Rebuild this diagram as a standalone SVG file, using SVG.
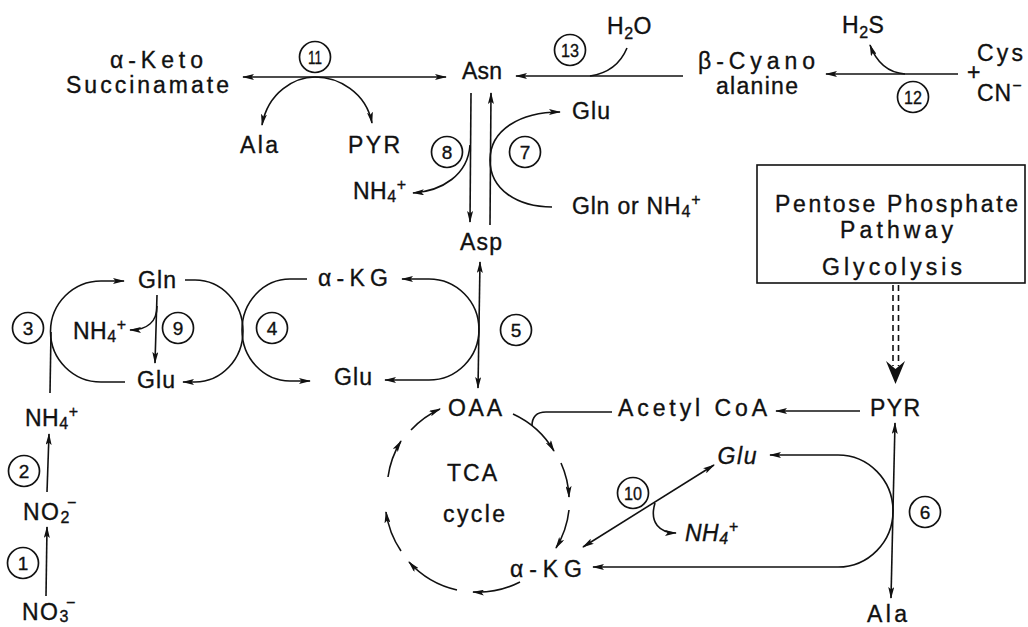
<svg xmlns="http://www.w3.org/2000/svg" width="1028" height="627" viewBox="0 0 1028 627">
<defs>
<style>
text{font-family:"Liberation Sans",Arial,sans-serif;font-size:23px;fill:#111;stroke:#111;stroke-width:0.35}
.c{text-anchor:middle}
.n{font-size:19px;text-anchor:middle}
.s{font-size:16px}
.it{font-style:italic}
.ln{fill:none;stroke:#111;stroke-width:1.6}
.ar{marker-end:url(#ah)}
.ab{marker-start:url(#ah);marker-end:url(#ah)}
circle{fill:none;stroke:#111;stroke-width:1.7}
</style>
<marker id="ah" viewBox="0 0 12 6" refX="11" refY="3" markerWidth="12" markerHeight="6" orient="auto-start-reverse" markerUnits="userSpaceOnUse">
<path d="M0,0 L12,3 L0,6 L2.5,3 z" fill="#111"/>
</marker>
</defs>
<rect width="1028" height="627" fill="#fff"/>

<g id="connectors">
<path class="ln ab" d="M243,77 H446"/>
<path class="ln ab" d="M262,125 C268,92 295,77 315,77 C338,77 366,92 372,123"/>
<path class="ln ar" d="M683,76 H516"/>
<path class="ln" d="M590,76 Q617,72 627,48"/>
<path class="ln ar" d="M958,74 H826"/>
<path class="ln ar" d="M905,74 Q880,72 870,45"/>
<path class="ln ar" d="M471,93 L470,222"/>
<path class="ln ar" d="M470,145 C468,175 442,191 413,193"/>
<path class="ln ar" d="M490,225 L491,93"/>
<path class="ln ar" d="M552,207 C518,207 490,190 490,160 C490,130 520,112 560,112"/>
<path class="ln ab" d="M478,388 L480,262"/>
<path class="ln ab" d="M402,279 H429 A50,50.5 0 0 1 429,380 H385"/>
<path class="ln" d="M50,393 L51,332"/>
<path class="ln ar" d="M125,382 H101 A50,50 0 0 1 101,281 H124"/>
<path class="ln ar" d="M157,295 L155,363"/>
<path class="ln ar" d="M157,306 C157,322 147,330 130,330"/>
<path class="ln ar" d="M185,280 H195 A48,51 0 0 1 195,382 H183"/>
<path class="ln ar" d="M307,279 H290 A48,51 0 0 0 290,381 H310"/>
<path class="ln ar" d="M47,492 L49,434"/>
<path class="ln ar" d="M46,596 L47,527"/>
<path class="ln" d="M893,285 V366 M898.5,285 V366" stroke-dasharray="6,4" stroke-width="1.4"/>
<path d="M886,361 L895.5,369 L905,361 L895.5,384 z" fill="#111"/>
<path class="ln ar" d="M860,411 H776"/>
<path class="ln" d="M612,412 H546 Q532,412 532,426"/>
<path class="ln ar" d="M513,414 A92,92 0 0 1 554,451"/>
<path class="ln ar" d="M561,463 A92,92 0 0 1 569,497"/>
<path class="ln ar" d="M569,510 A92,92 0 0 1 556,548"/>
<path class="ln ar" d="M520,582 A92,92 0 0 1 473,592"/>
<path class="ln ar" d="M457,590 A92,92 0 0 1 409,562"/>
<path class="ln ar" d="M401,551 A92,92 0 0 1 386,512"/>
<path class="ln ar" d="M388,477 A92,92 0 0 1 401,441"/>
<path class="ln ar" d="M411,430 A92,92 0 0 1 440,409"/>
<path class="ln ab" d="M583,547 L714,465"/>
<path class="ln ar" d="M655,503 C649,523 660,533 676,533"/>
<path class="ln ab" d="M770,455 H838 A55,56 0 0 1 838,567 H593"/>
<path class="ln ab" d="M891,598 L895,423"/>
</g>

<g id="n11"><circle cx="315" cy="57" r="15.5"/><text class="n" x="315" y="64" textLength="14" lengthAdjust="spacingAndGlyphs">11</text></g>
<g id="n13"><circle cx="570" cy="50" r="15.5"/><text class="n" x="570" y="57" textLength="18" lengthAdjust="spacingAndGlyphs">13</text></g>
<g id="n12"><circle cx="913" cy="97" r="15.5"/><text class="n" x="913" y="104" textLength="18" lengthAdjust="spacingAndGlyphs">12</text></g>
<g id="n8"><circle cx="447" cy="152" r="15.5"/><text class="n" x="447" y="159">8</text></g>
<g id="n7"><circle cx="525" cy="152" r="15.5"/><text class="n" x="525" y="159">7</text></g>
<g id="n3"><circle cx="28" cy="328" r="15.5"/><text class="n" x="28" y="335">3</text></g>
<g id="n9"><circle cx="178" cy="328" r="15.5"/><text class="n" x="178" y="335">9</text></g>
<g id="n4"><circle cx="272" cy="328" r="15.5"/><text class="n" x="272" y="335">4</text></g>
<g id="n5"><circle cx="516" cy="330" r="15.5"/><text class="n" x="516" y="337">5</text></g>
<g id="n2"><circle cx="24" cy="471" r="15.5"/><text class="n" x="24" y="478">2</text></g>
<g id="n1"><circle cx="23" cy="563" r="15.5"/><text class="n" x="23" y="570">1</text></g>
<g id="n10"><circle cx="633" cy="493" r="15.5"/><text class="n" x="633" y="500" textLength="18" lengthAdjust="spacingAndGlyphs">10</text></g>
<g id="n6"><circle cx="925" cy="512" r="15.5"/><text class="n" x="925" y="519">6</text></g>

<g id="aks"><text class="c" x="156.5" y="68" textLength="93">α-Keto</text><text class="c" x="147.5" y="93" textLength="163">Succinamate</text></g>
<g id="asn"><text class="c" x="482" y="79" textLength="40">Asn</text></g>
<g id="h2o"><text x="607" y="34" letter-spacing="0.5">H<tspan class="s" dy="5">2</tspan><tspan dy="-5">O</tspan></text></g>
<g id="bcyano"><text class="c" x="756.5" y="69" textLength="117">β-Cyano</text><text class="c" x="757" y="94" textLength="82">alanine</text></g>
<g id="h2s"><text x="842" y="33" letter-spacing="0.5">H<tspan class="s" dy="5">2</tspan><tspan dy="-5">S</tspan></text></g>
<g id="cyscn"><text class="c" x="1000" y="61" textLength="46">Cys</text><text x="967" y="80" font-size="16px">+</text><text x="977" y="101" letter-spacing="1">CN<tspan class="s" dy="-10">−</tspan></text></g>
<g id="ala1"><text class="c" x="259" y="153" textLength="38">Ala</text></g>
<g id="pyr1"><text class="c" x="374" y="153" textLength="52">PYR</text></g>
<g id="glu1"><text class="c" x="591" y="119" textLength="38">Glu</text></g>
<g id="nh4a"><text x="353" y="199" letter-spacing="0.5">NH<tspan class="s" dy="3">4</tspan><tspan class="s" dy="-12">+</tspan></text></g>
<g id="glnor"><text x="572" y="214" letter-spacing="0.8">Gln or NH<tspan class="s" dy="3">4</tspan><tspan class="s" dy="-12">+</tspan></text></g>
<g id="asp"><text class="c" x="481" y="250" textLength="42">Asp</text></g>
<g id="akg1"><text class="c" x="353" y="286" textLength="70">α-KG</text></g>
<g id="glu2"><text class="c" x="353" y="385" textLength="38">Glu</text></g>
<g id="gln"><text class="c" x="157" y="288" textLength="38">Gln</text></g>
<g id="glu3"><text class="c" x="156" y="388" textLength="38">Glu</text></g>
<g id="nh4b"><text x="73" y="339" letter-spacing="0.5">NH<tspan class="s" dy="3">4</tspan><tspan class="s" dy="-12">+</tspan></text></g>
<g id="nh4c"><text x="25" y="426" letter-spacing="0.5">NH<tspan class="s" dy="3">4</tspan><tspan class="s" dy="-12">+</tspan></text></g>
<g id="no2"><text x="23" y="520" letter-spacing="1.5">NO<tspan class="s" dy="3">2</tspan><tspan class="s" dx="-4" dy="-15">−</tspan></text></g>
<g id="no3"><text x="22" y="620" letter-spacing="1.5">NO<tspan class="s" dy="2">3</tspan><tspan class="s" dx="-4" dy="-14">−</tspan></text></g>
<g id="ppp"><rect x="757" y="165" width="268" height="118" fill="none" stroke="#111" stroke-width="1.6"/><text class="c" x="896.5" y="212" textLength="243">Pentose Phosphate</text><text class="c" x="896.5" y="238" textLength="113">Pathway</text><text class="c" x="892" y="275" textLength="140">Glycolysis</text></g>
<g id="pyr2"><text class="c" x="895" y="416" textLength="50">PYR</text></g>
<g id="acoa"><text class="c" x="692.5" y="416" textLength="149">Acetyl CoA</text></g>
<g id="oaa"><text class="c" x="475" y="416" textLength="54">OAA</text></g>
<g id="tca"><text class="c" x="472" y="481" textLength="50">TCA</text><text class="c" x="474" y="522" textLength="62">cycle</text></g>
<g id="glu4"><text class="c it" x="737" y="464" textLength="39">Glu</text></g>
<g id="nh4d"><text class="it" x="685" y="541" letter-spacing="0.5">NH<tspan class="s" dy="3">4</tspan><tspan class="s" dy="-12">+</tspan></text></g>
<g id="akg2"><text class="c" x="546" y="577" textLength="72">α-KG</text></g>
<g id="ala2"><text class="c" x="887" y="622" textLength="40">Ala</text></g>
</svg>
